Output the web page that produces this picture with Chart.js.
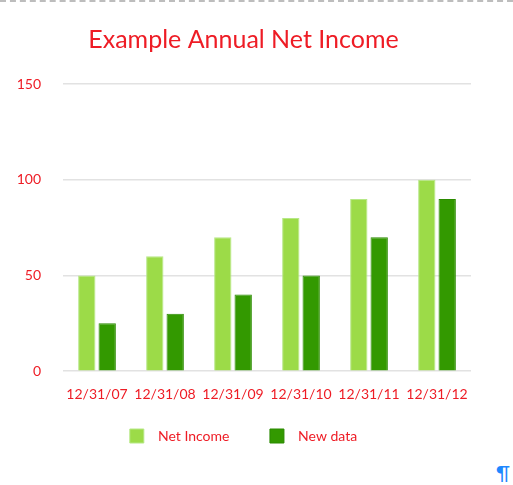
<!DOCTYPE html>
<html>
<head>
<meta charset="utf-8">
<script src="https://cdn.jsdelivr.net/npm/chart.js@4/dist/chart.umd.min.js"></script>
<style>
  html, body { margin: 0; padding: 0; background: #fff; }
  #wrap { position: relative; width: 513px; height: 485px; border-top: 2px dashed #bdbdbd; box-sizing: border-box; }
  #box { position: absolute; left: 0; top: 0; width: 513px; height: 451px; }
  #pil { position: absolute; left: 496px; top: 458px; font: 20px Lato, sans-serif; color: #1e88ff; }
</style>
</head>
<body>
<div id="wrap">
  <div id="box"><canvas id="chart"></canvas></div>
  <span id="pil">¶</span>
</div>
<script>
// Datos del gráfico
const categorias = ["12/31/07", "12/31/08", "12/31/09", "12/31/10", "12/31/11", "12/31/12"];
const netIncome = [50, 60, 70, 80, 90, 100];
const newData = [25, 30, 40, 50, 70, 90];
const ticksY = [0, 50, 100, 150];

const rojo = "#ee1c25";

new Chart(document.getElementById("chart"), {
    type: "bar",
    data: {
        labels: categorias,
        datasets: [{
            label: "Net Income",
            data: netIncome,
            backgroundColor: "#9cdb48",
            borderColor: "#b6e886",
            borderWidth: 1,
        }, {
            label: "New data",
            data: newData,
            backgroundColor: "#339900",
            borderColor: "#2b8a00",
            borderWidth: 1,
        }],
    },
    options: {
        responsive: true,
        maintainAspectRatio: false,
        animation: false,
        layout: { padding: { left: 16, right: 42, top: 19, bottom: 0 } },
        datasets: { bar: { categoryPercentage: 0.6, barPercentage: 0.85 } },
        plugins: {
            title: {
                display: true,
                text: "Example Annual Net Income",
                color: rojo,
                font: { family: "Lato", size: 25, weight: "normal" },
                padding: { top: 4, bottom: 29 },
            },
            legend: {
                position: "bottom",
                labels: {
                    color: rojo,
                    font: { family: "Lato", size: 14 },
                    boxWidth: 14,
                    boxHeight: 14,
                    padding: 19,
                    // separar un poco el texto del cuadro y entre elementos
                    generateLabels: (chart) => Chart.defaults.plugins.legend.labels.generateLabels(chart)
                        .map((l, i, all) => ({ ...l, text: "  " + l.text + (i < all.length - 1 ? "      " : "") })),
                },
            },
            tooltip: { enabled: false },
        },
        scales: {
            x: {
                grid: { display: false },
                border: { display: false },
                ticks: { color: rojo, font: { family: "Lato", size: 14 }, padding: 7, maxRotation: 0, autoSkip: false },
            },
            y: {
                min: 0,
                max: 150,
                afterBuildTicks: (axis) => { axis.ticks = ticksY.map(v => ({ value: v })); },
                afterFit: (axis) => { axis.width = 47; },
                grid: { color: "#e2e2e2", lineWidth: 1.5, drawTicks: false },
                border: { display: false },
                ticks: { color: rojo, font: { family: "Lato", size: 14 }, padding: 22 },
            },
        },
    },
});
</script>
</body>
</html>
